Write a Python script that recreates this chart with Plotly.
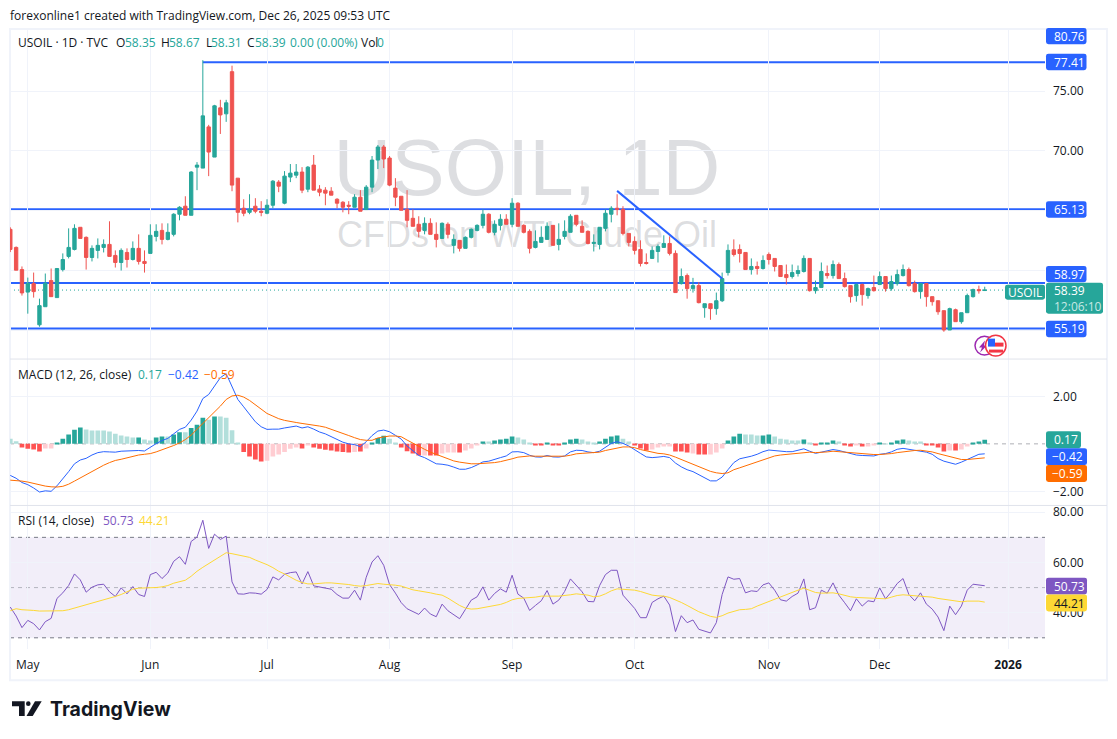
import plotly.graph_objects as go
from plotly.subplots import make_subplots

# daily USOIL bars, oldest first
opens = [63.46,61.95,60.10,58.22,58.93,55.49,57.00,59.18,57.76,60.10,
         61.20,61.78,63.63,62.79,61.11,61.70,61.95,62.20,61.28,60.69,
         61.53,60.94,61.87,60.78,61.45,62.87,63.37,62.62,63.04,64.72,
         65.39,64.63,68.65,68.57,72.01,69.49,73.60,73.10,76.62,67.73,
         65.22,64.88,65.39,64.97,64.80,65.47,67.40,65.64,67.82,67.98,
         68.24,66.81,68.82,66.81,66.73,66.64,65.97,65.72,65.47,65.30,
         66.14,65.11,66.98,69.24,70.33,69.41,66.90,66.22,65.13,64.38,
         63.88,63.37,63.96,63.04,62.70,63.88,62.12,62.54,61.87,62.79,
         63.37,63.79,64.72,63.21,63.79,64.30,63.88,65.64,63.79,63.29,
         61.95,62.37,62.62,63.79,62.20,62.87,63.21,64.63,63.71,63.29,
         62.28,62.20,63.54,64.72,65.22,65.13,63.12,62.45,61.78,60.69,
         61.03,61.61,61.95,62.28,61.45,58.93,59.60,58.51,58.76,56.92,
         57.25,56.84,57.50,59.85,61.75,61.78,61.53,60.10,60.36,60.19,
         61.36,61.03,60.44,59.68,59.52,59.77,59.94,61.03,58.34,58.60,
         59.77,59.60,60.52,59.35,58.76,57.93,58.85,57.93,58.60,58.85,
         59.52,58.51,58.93,59.60,60.10,58.93,58.26,58.93,57.84,57.50,
         56.67,55.06,56.75,55.75,56.50,57.84,58.43,58.35]
highs = [63.63,62.03,60.36,59.43,59.85,57.67,59.77,60.19,60.19,61.45,
         63.54,63.88,63.63,62.87,62.12,62.70,62.62,64.13,61.70,61.87,
         61.87,62.45,63.04,61.70,63.88,63.88,63.96,63.96,64.80,65.39,
         66.22,68.32,69.07,77.58,72.18,73.85,74.27,74.27,77.12,67.73,
         65.97,66.39,66.06,65.81,65.97,67.57,67.57,68.32,68.91,68.91,
         68.65,68.74,69.66,67.15,66.98,66.98,66.06,65.81,65.81,66.39,
         66.73,67.15,69.58,70.50,70.50,69.58,67.73,66.22,66.73,65.13,
         64.55,64.46,64.38,64.04,64.04,64.04,63.04,62.54,62.87,63.54,
         63.88,65.13,64.80,64.21,64.72,64.72,66.06,65.72,63.88,63.46,
         63.37,63.71,64.04,63.79,63.96,64.21,64.72,64.63,64.21,63.37,
         63.04,63.63,65.13,65.39,66.39,65.39,63.12,62.87,62.54,61.45,
         62.03,62.20,62.96,62.87,61.70,60.19,59.77,59.41,59.04,57.25,
         57.25,58.18,59.85,62.20,62.62,62.20,61.53,61.03,60.77,61.28,
         61.53,61.03,60.44,60.52,60.52,60.44,61.28,61.03,59.18,60.69,
         60.44,60.86,60.69,59.85,58.76,58.93,58.93,58.60,59.60,59.94,
         59.52,59.60,60.10,60.52,60.27,59.18,58.93,58.93,57.84,57.50,
         56.67,56.92,56.84,56.50,58.09,58.51,58.76,58.67]
lows = [61.56,60.05,57.93,56.42,57.76,55.33,57.00,57.84,57.76,59.94,
        61.03,61.70,62.70,60.10,60.78,61.03,61.53,61.20,60.27,60.02,
        60.27,60.86,60.52,59.85,61.45,62.45,62.20,62.54,62.87,64.21,
        64.63,64.63,66.73,68.57,67.90,69.49,71.42,72.43,66.64,64.04,
        64.55,64.72,64.80,64.55,64.72,65.22,66.56,65.55,67.40,67.73,
        66.48,66.56,66.73,66.22,65.47,66.31,65.22,64.88,64.72,65.30,
        64.97,65.11,66.56,68.49,68.57,67.06,65.39,65.05,63.63,63.71,
        62.79,63.04,63.04,61.95,62.70,62.70,61.45,61.61,61.87,62.70,
        63.29,63.54,63.12,62.96,63.37,63.88,63.63,63.71,63.12,61.45,
        61.87,62.37,62.62,62.12,61.70,62.62,63.21,63.71,63.21,62.20,
        61.61,61.78,63.29,64.04,64.63,62.96,62.03,61.36,60.36,60.52,
        61.03,60.69,61.95,61.28,58.18,58.85,57.67,58.18,57.28,56.08,
        55.91,56.33,57.39,59.60,61.19,60.69,60.10,59.68,59.68,60.10,
        60.52,59.94,59.52,58.85,59.35,59.52,59.85,58.26,58.09,58.60,
        59.35,59.35,59.35,58.60,57.34,57.42,57.09,57.67,58.26,58.85,
        58.26,58.34,58.76,59.52,58.68,58.18,57.67,57.00,57.09,56.33,
        54.91,55.06,55.75,55.58,56.50,57.76,58.09,58.31]
closes = [61.78,60.05,58.15,58.96,58.26,57.09,58.96,57.84,60.19,60.94,
          61.95,63.54,62.70,61.11,61.87,62.12,62.20,61.20,60.69,61.70,
          60.94,61.87,60.78,60.61,62.96,63.29,62.62,63.21,64.72,65.30,
          64.63,68.24,68.82,72.93,69.91,73.77,73.01,74.02,67.15,64.88,
          64.80,65.13,64.97,64.88,65.47,67.48,67.06,67.90,68.15,68.24,
          66.73,68.65,66.73,66.56,66.48,66.31,65.64,65.30,65.39,66.14,
          64.97,66.98,69.24,70.33,69.33,67.15,66.14,65.05,64.21,63.71,
          63.29,63.96,63.04,62.62,63.96,63.04,62.62,61.87,62.79,63.46,
          63.79,64.72,63.21,63.88,64.30,63.88,65.64,63.71,63.21,61.87,
          62.45,62.79,63.71,62.12,62.62,63.29,64.55,63.88,63.21,62.28,
          62.37,63.63,64.80,65.22,65.13,63.12,62.37,61.70,60.61,60.61,
          61.70,62.03,62.28,61.45,58.18,59.52,58.51,58.76,57.34,57.25,
          56.84,57.50,59.35,61.70,61.36,61.44,60.10,60.36,60.19,60.86,
          60.94,60.36,59.52,59.43,59.85,60.02,61.03,58.34,58.60,59.94,
          59.60,60.52,59.35,58.68,57.84,58.85,58.01,58.51,58.34,59.52,
          58.51,59.10,59.68,60.10,58.76,58.26,58.93,57.84,57.42,56.58,
          55.06,56.84,55.75,56.50,57.93,58.43,58.34,58.39]

macd_hist = [0.22,0.11,-0.15,-0.21,-0.24,-0.32,-0.20,-0.20,0.04,0.21,
             0.39,0.59,0.69,0.60,0.56,0.56,0.56,0.52,0.43,0.35,
             0.31,0.27,0.27,0.18,0.14,0.27,0.31,0.31,0.39,0.49,
             0.49,0.67,0.81,1.10,1.02,1.15,1.15,1.10,0.57,0.06,
             -0.34,-0.53,-0.66,-0.74,-0.71,-0.53,-0.45,-0.34,-0.21,-0.15,
             -0.20,-0.06,-0.15,-0.21,-0.25,-0.28,-0.32,-0.34,-0.36,-0.34,
             -0.32,-0.20,0.04,0.25,0.34,0.22,0.04,-0.15,-0.31,-0.41,
             -0.49,-0.49,-0.49,-0.49,-0.41,-0.36,-0.36,-0.36,-0.28,-0.20,
             -0.07,0.10,0.10,0.14,0.18,0.22,0.31,0.27,0.18,0.06,
             -0.03,-0.03,0.06,-0.03,-0.03,0.06,0.18,0.22,0.18,0.10,
             0.06,0.10,0.22,0.31,0.35,0.22,0.10,-0.07,-0.20,-0.28,
             -0.24,-0.15,-0.11,-0.11,-0.32,-0.32,-0.36,-0.41,-0.45,-0.45,
             -0.45,-0.36,-0.20,0.14,0.31,0.43,0.39,0.39,0.35,0.35,
             0.39,0.31,0.22,0.18,0.14,0.14,0.18,0.06,-0.07,0.06,
             0.06,0.14,0.10,-0.03,-0.11,-0.07,-0.11,-0.11,-0.07,0.06,
             0.01,0.06,0.14,0.18,0.14,0.10,0.10,-0.03,-0.07,-0.15,
             -0.32,-0.28,-0.28,-0.24,-0.11,0.06,0.10,0.17]
# g rising above zero, l falling above zero, r falling below zero, p rising below zero
hist_kinds = ("llrrrrppgg" "ggglllllll" "llgllgglgg" "lggglgllll" "rrrrpppppp"
              "rprrrrrrrp" "rpgggllrrr" "rprrppprpp" "pglgggglll" "rrgrrgggll"
              "lggggllrrr" "pppprrrprr" "pppggglllg" "glllllglrg" "gglrrprppg"
              "lggglllrrr" "rprppggg")
macd_line = [-1.33,-1.45,-1.63,-1.72,-1.86,-2.03,-1.98,-2.00,-1.77,-1.49,
             -1.17,-0.84,-0.68,-0.61,-0.47,-0.37,-0.33,-0.34,-0.35,-0.31,
             -0.30,-0.27,-0.28,-0.30,-0.14,0.01,0.14,0.23,0.42,0.61,
             0.70,1.00,1.38,1.91,2.08,2.43,2.79,2.96,2.43,1.87,
             1.56,1.24,0.93,0.72,0.61,0.62,0.62,0.67,0.72,0.75,
             0.67,0.72,0.62,0.50,0.42,0.30,0.19,0.07,0.00,-0.03,
             -0.12,0.09,0.35,0.54,0.58,0.51,0.36,0.20,-0.09,-0.31,
             -0.49,-0.58,-0.70,-0.84,-0.86,-0.90,-0.98,-1.07,-1.07,-1.00,
             -0.89,-0.76,-0.73,-0.67,-0.58,-0.51,-0.34,-0.33,-0.37,-0.48,
             -0.55,-0.56,-0.49,-0.55,-0.56,-0.51,-0.34,-0.27,-0.28,-0.34,
             -0.37,-0.31,-0.14,0.02,0.09,0.02,-0.09,-0.23,-0.40,-0.55,
             -0.58,-0.56,-0.53,-0.58,-0.81,-0.97,-1.09,-1.17,-1.30,-1.46,
             -1.56,-1.56,-1.40,-1.09,-0.79,-0.63,-0.58,-0.52,-0.44,-0.33,
             -0.26,-0.28,-0.33,-0.33,-0.33,-0.28,-0.21,-0.31,-0.40,-0.35,
             -0.30,-0.24,-0.28,-0.34,-0.42,-0.47,-0.49,-0.51,-0.51,-0.44,
             -0.41,-0.34,-0.23,-0.19,-0.23,-0.26,-0.28,-0.35,-0.44,-0.62,
             -0.73,-0.79,-0.86,-0.77,-0.65,-0.53,-0.44,-0.42]
macd_signal = [-1.53,-1.54,-1.57,-1.61,-1.67,-1.72,-1.78,-1.81,-1.82,-1.79,
               -1.70,-1.57,-1.43,-1.31,-1.17,-1.04,-0.90,-0.79,-0.70,-0.65,
               -0.58,-0.52,-0.47,-0.44,-0.41,-0.34,-0.26,-0.17,-0.07,0.04,
               0.18,0.37,0.61,0.86,1.11,1.35,1.59,1.87,2.02,2.05,
               1.97,1.83,1.65,1.46,1.28,1.17,1.06,0.99,0.93,0.90,
               0.86,0.83,0.79,0.75,0.70,0.62,0.54,0.44,0.35,0.26,
               0.18,0.15,0.15,0.25,0.30,0.33,0.33,0.30,0.16,0.02,
               -0.12,-0.23,-0.35,-0.45,-0.55,-0.65,-0.72,-0.77,-0.81,-0.84,
               -0.84,-0.83,-0.81,-0.79,-0.75,-0.70,-0.63,-0.56,-0.52,-0.51,
               -0.52,-0.52,-0.52,-0.53,-0.53,-0.52,-0.48,-0.42,-0.40,-0.38,
               -0.38,-0.35,-0.28,-0.23,-0.17,-0.13,-0.13,-0.16,-0.24,-0.30,
               -0.34,-0.40,-0.42,-0.47,-0.56,-0.66,-0.77,-0.86,-0.97,-1.08,
               -1.16,-1.22,-1.25,-1.22,-1.09,-1.01,-0.93,-0.84,-0.76,-0.67,
               -0.59,-0.51,-0.47,-0.44,-0.42,-0.40,-0.37,-0.35,-0.37,-0.37,
               -0.34,-0.31,-0.33,-0.35,-0.37,-0.41,-0.44,-0.44,-0.45,-0.45,
               -0.44,-0.41,-0.37,-0.33,-0.30,-0.28,-0.27,-0.30,-0.34,-0.41,
               -0.48,-0.53,-0.62,-0.66,-0.66,-0.63,-0.60,-0.59]
rsi_line = [42.23,38.67,34.05,36.95,35.63,33.13,36.43,37.75,45.67,47.91,
            50.81,55.43,53.06,48.17,50.15,51.08,51.34,48.31,46.46,49.89,
            47.51,50.42,47.25,46.46,55.17,56.09,53.59,55.83,60.45,62.30,
            59.26,68.37,70.09,76.82,65.60,71.27,69.16,70.48,52.27,47.51,
            47.38,47.91,47.78,47.38,49.23,54.25,53.06,55.30,55.96,56.23,
            51.47,56.36,50.68,50.29,50.02,49.36,47.25,45.80,45.80,48.97,
            45.01,54.11,60.19,62.69,58.87,51.21,47.80,44.00,
            41.57,40.39,39.33,41.84,39.46,38.41,43.42,40.78,39.20,37.61,
            41.31,45.01,46.33,50.29,45.01,47.65,49.49,48.17,54.91,47.38,
            45.80,40.91,42.89,44.74,48.83,43.42,45.01,48.44,53.45,50.81,
            48.31,44.48,44.35,50.81,55.17,56.89,56.89,46.99,44.21,41.71,
            38.01,38.01,44.08,45.53,46.59,43.03,32.47,38.80,36.03,37.09,
            33.39,32.73,31.94,36.03,47.25,54.25,
            53.32,53.59,47.91,48.70,48.44,51.08,51.87,48.97,45.14,44.61,
            46.46,47.78,53.45,41.18,41.97,48.97,47.78,51.87,46.99,43.95,
            40.78,45.53,42.63,44.74,44.35,49.89,45.53,48.31,51.61,53.59,
            47.25,44.74,47.91,43.42,41.44,38.27,32.86,42.63,39.20,42.63,
            48.97,51.34,51.08,50.73]
rsi_ma = [40.78,41.57,41.18,41.18,40.91,40.65,40.65,40.52,40.52,40.78,
          41.18,41.84,42.50,42.89,43.55,44.35,45.14,45.80,46.46,47.25,
          48.31,49.36,49.76,49.76,49.89,50.02,50.29,50.81,51.74,52.40,
          52.93,54.51,56.49,58.07,59.53,60.85,62.43,63.88,63.49,62.96,
          62.56,62.03,60.98,60.19,59.13,57.94,56.49,55.43,54.11,52.93,
          52.00,51.47,51.47,51.74,51.87,51.87,51.74,51.47,51.21,50.81,
          50.55,50.81,51.21,51.61,51.34,51.21,50.95,50.60,
          49.76,49.10,48.70,48.44,47.91,47.38,46.99,45.80,44.35,42.89,
          41.84,41.44,41.57,41.97,42.23,42.76,43.29,44.08,45.14,45.67,
          45.80,45.93,46.19,46.59,46.72,46.59,46.59,46.72,47.12,47.51,
          47.38,46.99,46.33,46.59,47.51,48.70,49.49,49.36,49.10,48.97,
          48.44,47.78,46.99,46.72,46.59,46.06,45.14,44.08,42.89,41.57,
          40.39,39.46,38.54,38.14,38.80,39.86,
          40.65,41.18,41.31,41.57,42.63,43.55,44.61,45.40,46.33,47.25,
          48.04,48.97,49.76,48.83,48.04,47.78,47.78,47.91,47.51,46.85,
          46.33,46.06,45.93,45.93,45.80,45.67,45.53,46.19,46.85,47.12,
          46.99,46.59,46.46,46.59,46.19,45.67,45.27,45.14,44.74,44.35,
          44.61,44.74,44.61,44.21]

bars = list(range(len(closes)))
assert all(len(s) == len(closes) for s in
           [opens, highs, lows, macd_hist, hist_kinds, macd_line, macd_signal, rsi_line, rsi_ma])

month_bars = [3, 24, 44, 65, 86, 107, 130, 149, 171]
month_labels = ["May", "Jun", "Jul", "Aug", "Sep", "Oct", "Nov", "Dec", "<b>2026</b>"]

level_lines = [55.19, 58.97, 65.13]
top_level = 77.41
top_level_bar = 33
last_price = 58.39
trend_bars = [104, 122]
trend_prices = [66.67, 59.35]

TEAL = "#26A69A"
RED = "#EF5350"
BLUE = "#2962FF"
ORANGE = "#FF6D00"
PURPLE = "#7E57C2"
YELLOW = "#FDD835"
GRID = "#f0f3fa"
INK = "#131722"
FONT = "Open Sans"
hist_colors = {"g": "#26A69A", "l": "#B2DFDB", "r": "#FF5252", "p": "#FFCDD2"}

W, H = 1117, 739
XRANGE = [-0.05, 177.33]


def px(x):
    return x / W


def py(y):
    # one pixel up, the render sits that low against the target
    return 1 - (y - 1) / H


def rounded(x0, y0, x1, y1, r=2.5):
    a, b, c, d = px(x0), py(y0), px(x1), py(y1)
    rx, ry = r / W, r / H
    return (f"M{a+rx},{b} L{c-rx},{b} Q{c},{b} {c},{b-ry} L{c},{d+ry} Q{c},{d} {c-rx},{d} "
            f"L{a+rx},{d} Q{a},{d} {a},{d+ry} L{a},{b-ry} Q{a},{b} {a+rx},{b} Z")


fig = make_subplots(rows=3, cols=1)

fig.add_trace(go.Candlestick(x=bars, open=opens, high=highs, low=lows, close=closes,
                             increasing=dict(line=dict(color=TEAL, width=1), fillcolor=TEAL),
                             decreasing=dict(line=dict(color=RED, width=1), fillcolor=RED),
                             whiskerwidth=0), row=1, col=1)
fig.add_trace(go.Scatter(x=trend_bars, y=trend_prices, mode="lines",
                         line=dict(color=BLUE, width=2)), row=1, col=1)

fig.add_trace(go.Bar(x=bars, y=macd_hist, width=0.8,
                     marker=dict(color=[hist_colors[k] for k in hist_kinds], line_width=0)), row=2, col=1)
fig.add_trace(go.Scatter(x=bars, y=macd_line, mode="lines", line=dict(color=BLUE, width=1)), row=2, col=1)
fig.add_trace(go.Scatter(x=bars, y=macd_signal, mode="lines", line=dict(color=ORANGE, width=1)), row=2, col=1)

fig.add_trace(go.Scatter(x=bars, y=rsi_line, mode="lines", line=dict(color=PURPLE, width=1)), row=3, col=1)
fig.add_trace(go.Scatter(x=bars, y=rsi_ma, mode="lines", line=dict(color=YELLOW, width=1)), row=3, col=1)

axis_common = dict(showline=False, zeroline=False, gridcolor=GRID, gridwidth=1,
                   tickfont=dict(family=FONT, size=12, color=INK))
for n, dom in zip(["", "2", "3"], [(359, 27), (505, 359), (650, 506)]):
    fig.update_layout({
        f"xaxis{n}": dict(axis_common, domain=[px(10), px(1045)], range=XRANGE, tickmode="array",
                          tickvals=month_bars, ticktext=month_labels, showticklabels=n == "3",
                          ticks="", ticklabelstandoff=7, rangeslider_visible=False),
        f"yaxis{n}": dict(axis_common, domain=[py(dom[0]), py(dom[1])], side="right", ticks="",
                          ticklabelstandoff=7),
    })
# 55, 60 and 65 have their grid lines but the price tags hide their labels
fig.update_layout(yaxis=dict(range=[52.59, 80.19], tickvals=[55, 60, 65, 70, 75],
                             ticktext=["", "", "", "70.00", "75.00"]),
                  yaxis2=dict(range=[-2.575, 3.553], tickvals=[-2, 2], ticktext=["−2.00", "2.00"]),
                  yaxis3=dict(range=[25.4, 82.5], tickvals=[40, 60, 80], tickformat=".2f"))

shapes = []
# watermark sits under the candles
shapes.append(dict(type="rect", xref="paper", yref="paper", x0=px(227), x1=px(827), y0=py(208), y1=py(108),
                   layer="below", line_width=0, fillcolor="rgba(0,0,0,0)",
                   label=dict(text="USOIL, 1D", textposition="middle center",
                              font=dict(family="Liberation Sans", size=80, color="rgba(120,123,134,0.25)"))))
shapes.append(dict(type="rect", xref="paper", yref="paper", x0=px(227), x1=px(827), y0=py(256), y1=py(204),
                   layer="below", line_width=0, fillcolor="rgba(0,0,0,0)",
                   label=dict(text="CFDs on WTI Crude Oil", textposition="middle center",
                              font=dict(family="Liberation Sans", size=36, color="rgba(120,123,134,0.25)"))))
for level in level_lines:
    shapes.append(dict(type="line", xref="x domain", yref="y", x0=0, x1=1, y0=level, y1=level,
                       layer="below", line=dict(color=BLUE, width=2)))
shapes.append(dict(type="line", xref="x", yref="y", x0=top_level_bar, x1=XRANGE[1], y0=top_level, y1=top_level,
                   layer="below", line=dict(color=BLUE, width=2)))
shapes.append(dict(type="line", xref="x domain", yref="y", x0=0, x1=1, y0=last_price, y1=last_price,
                   layer="below", line=dict(color=TEAL, width=1, dash="1px,3px")))
shapes.append(dict(type="line", xref="x2 domain", yref="y2", x0=0, x1=1, y0=0, y1=0,
                   layer="below", line=dict(color="rgba(120,123,134,0.6)", width=1, dash="4px,4px")))
shapes.append(dict(type="rect", xref="x3 domain", yref="y3", x0=0, x1=1, y0=30, y1=70,
                   layer="below", line_width=0, fillcolor="rgba(126,87,194,0.1)"))
for level, col in [(70, "#787B86"), (50, "rgba(120,123,134,0.5)"), (30, "#787B86")]:
    shapes.append(dict(type="line", xref="x3 domain", yref="y3", x0=0, x1=1, y0=level, y1=level,
                       layer="below", line=dict(color=col, width=1, dash="4px,4px")))

# frame and pane separators
shapes.append(dict(type="rect", xref="paper", yref="paper", x0=px(10), x1=px(1107), y0=py(681), y1=py(27),
                   line=dict(color=GRID, width=2), layer="below"))
for y in [358.5, 505.5]:
    shapes.append(dict(type="line", xref="paper", yref="paper", x0=px(10), x1=px(1107), y0=py(y), y1=py(y),
                       line=dict(color="#e0e3eb", width=1)))

annotations = []


def label(text, x, y, size=12, color=INK, family=FONT, anchor="left"):
    annotations.append(dict(text=text, x=px(x - 1), y=py(y), xref="paper", yref="paper", showarrow=False,
                            xanchor=anchor, yanchor="middle", align="left", borderpad=0,
                            font=dict(family=family, size=size, color=color)))


def tag(text, x0, y0, x1, y1, bg, fg="#ffffff", text_x=None):
    shapes.append(dict(type="path", xref="paper", yref="paper", path=rounded(x0, y0, x1, y1),
                       fillcolor=bg, line_width=0))
    label(text, text_x if text_x else x0 + 8, (y0 + y1) / 2, color=fg)


# right hand price tags
tag("80.76", 1046, 26, 1086.5, 42.5, BLUE)
tag("77.41", 1046, 52, 1086.5, 68.5, BLUE)
tag("65.13", 1046, 200, 1086.5, 216.5, BLUE)
tag("58.97", 1046, 265, 1086.5, 281.5, BLUE)
tag("55.19", 1046, 320, 1086.5, 336.5, BLUE)
tag("USOIL", 1005, 284, 1045, 299, TEAL, text_x=1008)
tag("58.39<br><span style='color:#c8e9e5'>12:06:10</span>", 1046, 282, 1103, 313, TEAL)
tag("0.17", 1046, 431, 1081, 448, TEAL)
tag("−0.42", 1046, 448, 1087, 465, BLUE, text_x=1052)
tag("−0.59", 1046, 465, 1087, 482, ORANGE, text_x=1052)
tag("50.73", 1046, 578, 1087, 595, PURPLE)
tag("44.21", 1046, 595, 1087, 612, YELLOW, fg=INK)

# header and legends
label("forexonline1 created with TradingView.com, Dec 26, 2025 09:53 UTC", 10, 14)
for text, x, col in [("USOIL · 1D · TVC", 18, INK), ("O", 116, INK), ("58.35", 125, TEAL), ("H", 161, INK),
                     ("58.67", 169, TEAL), ("L", 205.5, INK), ("58.31", 211, TEAL), ("C", 247, INK),
                     ("58.39", 254.5, TEAL), ("0.00 (0.00%)", 290, TEAL), ("Vol", 361, INK), ("0", 377, TEAL)]:
    label(text, x, 40.5, color=col)
for text, x, col in [("MACD (12, 26, close)", 18, INK), ("0.17", 138, TEAL), ("−0.42", 168, BLUE), ("−0.59", 204, ORANGE)]:
    label(text, x, 374, color=col)
for text, x, col in [("RSI (14, close)", 18, INK), ("50.73", 103, PURPLE), ("44.21", 139, YELLOW)]:
    label(text, x, 521, color=col)

# event icons under the last candles
shapes.append(dict(type="circle", xref="paper", yref="paper", x0=px(975), x1=px(994), y0=py(354.5), y1=py(335.5),
                   fillcolor="#ffffff", line=dict(color="#9C27B0", width=1.5)))
shapes.append(dict(type="path", xref="paper", yref="paper", fillcolor="#9C27B0", line_width=0,
                   path=f"M{px(985)},{py(340)} L{px(979)},{py(347)} L{px(982)},{py(347)} L{px(980)},{py(352)} L{px(987)},{py(345)} L{px(984)},{py(345)} Z"))
shapes.append(dict(type="circle", xref="paper", yref="paper", x0=px(985.5), x1=px(1006), y0=py(355.5), y1=py(334.5),
                   fillcolor="#ffffff", line=dict(color="#F23645", width=1.5)))
shapes.append(dict(type="rect", xref="paper", yref="paper", x0=px(988), x1=px(995), y0=py(346), y1=py(338),
                   fillcolor="#2962FF", line_width=0))
shapes.append(dict(type="rect", xref="paper", yref="paper", x0=px(995), x1=px(1003.5), y0=py(346), y1=py(342),
                   fillcolor="#F23645", line_width=0))
shapes.append(dict(type="rect", xref="paper", yref="paper", x0=px(989), x1=px(1003), y0=py(352), y1=py(349),
                   fillcolor="#F23645", line_width=0))

# TradingView logo
shapes.append(dict(type="path", xref="paper", yref="paper", fillcolor="#131722", line_width=0,
                   path=f"M{px(12)},{py(702)} L{px(24.7)},{py(702)} L{px(24.7)},{py(717)} L{px(19)},{py(717)} L{px(19)},{py(707)} L{px(12)},{py(707)} Z"))
shapes.append(dict(type="circle", xref="paper", yref="paper", x0=px(26), x1=px(30.6), y0=py(706.8), y1=py(702.2),
                   fillcolor="#131722", line_width=0))
shapes.append(dict(type="path", xref="paper", yref="paper", fillcolor="#131722", line_width=0,
                   path=f"M{px(35)},{py(702)} L{px(41.7)},{py(702)} L{px(32.7)},{py(717)} L{px(26.5)},{py(717)} Z"))
label("<b>TradingView</b>", 50, 710, size=19.5, color="#131722", family="Inter")

fig.update_layout(width=W, height=H, margin=dict(l=0, r=0, t=0, b=0), paper_bgcolor="#ffffff",
                  plot_bgcolor="#ffffff", showlegend=False, barmode="overlay", boxgap=0.18,
                  shapes=shapes, annotations=annotations)

fig.write_html("out.html", config={"displayModeBar": False},
               post_script="document.body.style.margin='0';document.body.style.overflow='hidden';")
